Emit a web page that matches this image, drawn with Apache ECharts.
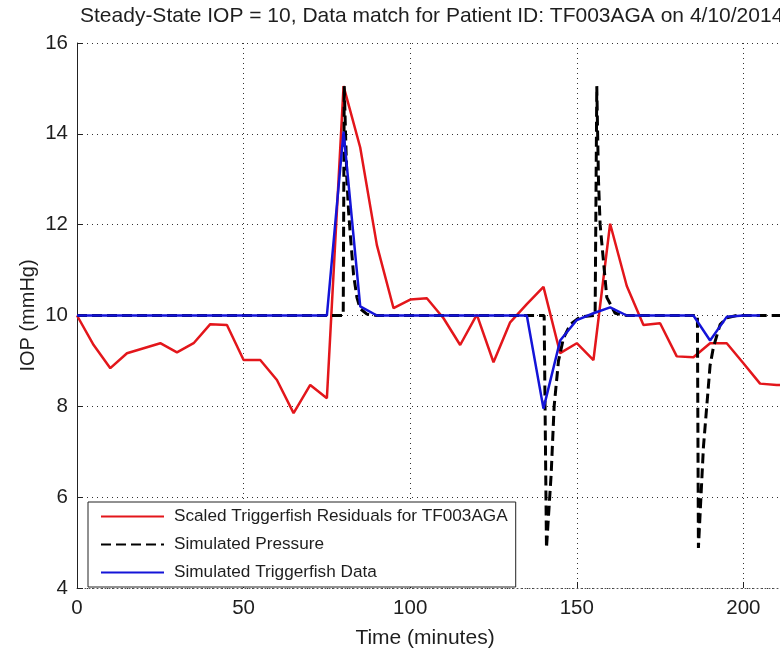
<!DOCTYPE html>
<html>
<head>
<meta charset="utf-8">
<script src="https://cdn.jsdelivr.net/npm/echarts@6/dist/echarts.min.js"></script>
<style>
html,body{margin:0;padding:0;background:#fff;}
#c{width:780px;height:655px;}
</style>
</head>
<body>
<div id="c"></div>
<script>
// ---- Data ----
var titleText = 'Steady-State IOP = 10, Data match for Patient ID: TF003AGA on 4/10/2014';
var xAxisTitle = 'Time (minutes)';
var yAxisTitle = 'IOP (mmHg)';
var xTicks = [0, 50, 100, 150, 200, 250];
var yTicks = [4, 6, 8, 10, 12, 14, 16];

// Scaled Triggerfish Residuals (5-minute samples)
var redTimes  = [0,5,10,15,20,25,30,35,40,45,50,55,60,65,70,75,80,85,90,95,100,105,110,115,120,125,130,135,140,145,150,155,160,165,170,175,180,185,190,195,200,205,210,215];
var redValues = [10,9.35,8.84,9.17,9.28,9.39,9.19,9.39,9.81,9.79,9.02,9.02,8.58,7.85,8.47,8.18,15.05,13.7,11.55,10.16,10.35,10.38,9.94,9.35,10.02,8.97,9.85,10.25,10.63,9.17,9.39,9.02,12.02,10.65,9.79,9.83,9.1,9.08,9.39,9.39,8.95,8.5,8.47,8.47];

// Simulated Pressure
var pressTimes  = [0,79.9,80.2,80.6,81,81.5,82,83,84,85,87,90,140.2,140.9,141.4,142.3,143.2,144.5,146,148,151,155.5,156,156.5,157,158,159,161.5,165,186.2,186.5,186.9,188,189,190,191,193,195,198,250];
var pressValues = [10,10,15.05,14,13,12.3,11.8,10.9,10.4,10.15,10.03,10,10,4.88,4.88,6.5,8,9,9.5,9.8,9.97,10,15.05,13,12,11.2,10.4,10.05,10,10,4.88,4.88,7.1,8,8.9,9.3,9.8,9.95,10,10];

// Simulated Triggerfish Data (5-minute samples)
var blueTimes  = [0,5,10,15,20,25,30,35,40,45,50,55,60,65,70,75,80,85,90,95,100,105,110,115,120,125,130,135,140,145,150,155,160,165,170,175,180,185,190,195,200,205];
var blueValues = [10,10,10,10,10,10,10,10,10,10,10,10,10,10,10,10,14.05,10.2,10,10,10,10,10,10,10,10,10,10,7.95,9.45,9.9,10.05,10.18,10,10,10,10,10,9.45,9.97,10,10];

var seriesNames = ['Scaled Triggerfish Residuals for TF003AGA', 'Simulated Pressure', 'Simulated Triggerfish Data'];

function zip(xs, ys){ return xs.map(function(x,i){ return [x, ys[i]]; }); }

var FONT = 'Liberation Sans';
var INK = '#1e1e1e';
var chart = echarts.init(document.getElementById('c'), null, {renderer:'canvas'});
chart.setOption({
  animation: false,
  backgroundColor: '#fff',
  textStyle: {fontFamily: FONT},
  title: [
    {text: titleText, left: 75, top: 1, textStyle: {fontFamily: FONT, fontSize: 21, fontWeight: 'normal', color: INK}},
    {text: xAxisTitle, left: 420, top: 623, textAlign: 'center', textStyle: {fontFamily: FONT, fontSize: 21, fontWeight: 'normal', color: INK}}
  ],
  grid: {left: 77, top: 43, bottom: 67, right: -130, containLabel: false, outerBoundsMode: 'none'},
  legend: {
    orient: 'vertical', left: 88, top: 502,
    padding: [6, 8, 6, 12],
    itemWidth: 63, itemHeight: 14, itemGap: 11,
    backgroundColor: '#fff', borderColor: '#222', borderWidth: 1,
    itemStyle: {opacity: 0},
    data: seriesNames,
    textStyle: {fontFamily: FONT, fontSize: 17.2, color: INK, padding: [0, 0, 0, 5]}
  },
  xAxis: {
    type: 'value', min: xTicks[0], max: xTicks[xTicks.length-1], interval: 50,
    axisLine: {show: true, lineStyle: {color: '#555', type: [1, 3], width: 1}},
    axisTick: {show: true, inside: true, length: 6, lineStyle: {color: '#222'}},
    axisLabel: {fontFamily: FONT, fontSize: 20.5, color: INK, margin: 10},
    splitLine: {show: true, lineStyle: {color: '#333', type: [1, 4], width: 1}}
  },
  yAxis: {
    type: 'value', min: yTicks[0], max: yTicks[yTicks.length-1], interval: 2,
    name: yAxisTitle, nameLocation: 'middle', nameGap: 39, nameRotate: 90, nameMoveOverlap: false,
    nameTextStyle: {fontFamily: FONT, fontSize: 20, color: INK},
    axisLine: {show: true, lineStyle: {color: '#222', width: 1}},
    axisTick: {show: true, inside: true, length: 6, lineStyle: {color: '#222'}},
    axisLabel: {fontFamily: FONT, fontSize: 20.5, color: INK, margin: 9},
    splitLine: {show: true, lineStyle: {color: '#333', type: [1, 4], width: 1}}
  },
  series: [
    {name: seriesNames[0], type: 'line', data: zip(redTimes, redValues), symbol: 'none', z: 2,
     lineStyle: {color: '#e3161b', width: 2.5}, itemStyle: {color: '#e3161b'}},
    {name: seriesNames[1], type: 'line', data: zip(pressTimes, pressValues), symbol: 'none', z: 3,
     lineStyle: {color: '#000', width: 3, type: [10, 5]}, itemStyle: {color: '#000'}},
    {name: seriesNames[2], type: 'line', data: zip(blueTimes, blueValues), symbol: 'none', z: 4,
     lineStyle: {color: '#1414d8', width: 2.5}, itemStyle: {color: '#1414d8'}}
  ]
});
</script>
</body>
</html>
